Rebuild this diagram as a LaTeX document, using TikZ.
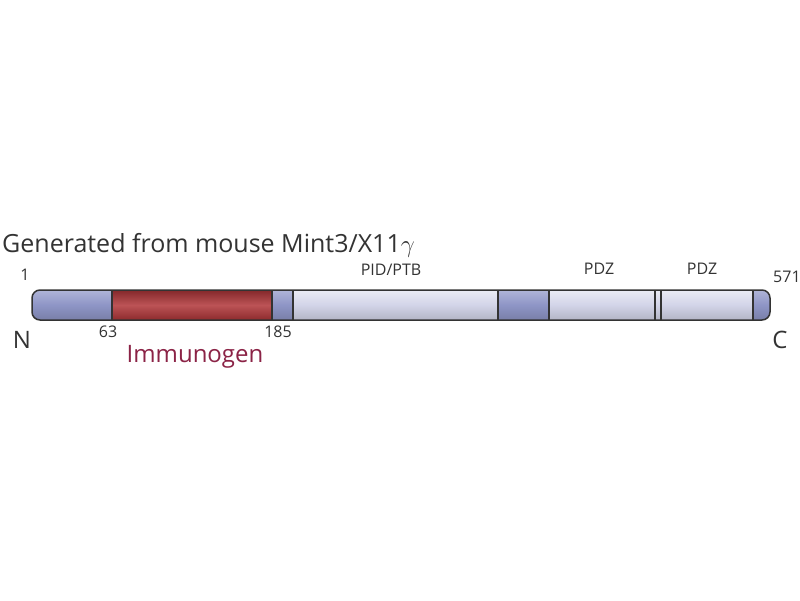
\documentclass[tikz,border=0pt]{standalone}
\usepackage{fontspec}
\setmainfont{Open Sans}
\definecolor{barlight}{HTML}{D2D4E8}
\definecolor{bardark}{HTML}{8E95C6}
\definecolor{barred}{HTML}{B03538}
\definecolor{immred}{HTML}{8B2346}
\definecolor{labelgrey}{HTML}{333333}
\begin{document}
\begin{tikzpicture}[x=1pt,y=-1pt,
	every node/.style={inner sep=0,text=labelgrey},
	small/.style={font=\fontsize{16}{18}\selectfont},
	big/.style={font=\fontsize{24}{27}\selectfont},
	light/.style={top color=white!55!barlight,bottom color=barlight!85!black,middle color=barlight},
	dark/.style={top color=bardark!70!white,bottom color=bardark!85!black,middle color=bardark},
	red/.style={top color=barred!75!black,bottom color=barred!80!black,middle color=barred!85!white}]
\useasboundingbox (0,0) rectangle (800,600);
\fill[white] (0,0) rectangle (800,600);
% bar
\begin{scope}
\clip[rounded corners=8] (32,290) rectangle (770,320);
\shade[dark] (32,290) rectangle (112,320);
\shade[red] (112,290) rectangle (272,320);
\shade[dark] (272,290) rectangle (293,320);
\shade[light] (293,290) rectangle (498,320);
\shade[dark] (498,290) rectangle (549,320);
\shade[light] (549,290) rectangle (655,320);
\shade[light] (655,290) rectangle (661,320);
\shade[light] (661,290) rectangle (753,320);
\shade[dark] (753,290) rectangle (770,320);
\end{scope}
\foreach \x in {112,272,293,498,549,655,661,753}
	\draw[labelgrey,line width=1.2] (\x,290) -- (\x,320);
\draw[labelgrey,line width=1.5,rounded corners=8] (32,290) rectangle (770,320);
% labels
\node[anchor=base west,font=\fontsize{25}{30}\selectfont] (title) at (2,252) {Generated from mouse Mint3/X11$\gamma$};
\node[small] (start) at (25,275) {1};
\node[small] (pid) at (391,270) {PID/PTB};
\node[small] (pdza) at (599,269) {PDZ};
\node[small] (pdzb) at (702,269) {PDZ};
\node[small,anchor=west] (stop) at (773,277) {571};
\node[small] (from) at (108,332) {63};
\node[small] (to) at (278,332) {185};
\node[big] (nterm) at (22,340) {N};
\node[big] (cterm) at (780,340) {C};
\node[big,text=immred] (imm) at (195,357) {Immunogen};
\end{tikzpicture}
\end{document}
